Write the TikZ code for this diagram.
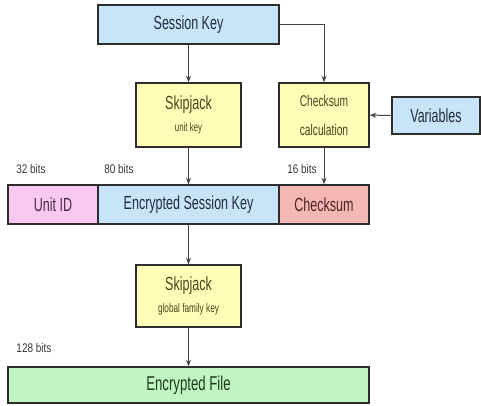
\documentclass[tikz,border=0pt]{standalone}
\usepackage{fontspec}
\setmainfont{Liberation Sans}[FakeStretch=0.66]
\newfontfamily\plainsf{Liberation Sans}[FakeStretch=0.8]
\usetikzlibrary{arrows.meta}
\definecolor{kblue}{RGB}{200,228,248}
\definecolor{kyellow}{RGB}{255,255,184}
\definecolor{kpink}{RGB}{248,200,240}
\definecolor{ksalmon}{RGB}{244,184,180}
\definecolor{kgreen}{RGB}{192,244,192}
\definecolor{kline}{RGB}{45,45,45}
\definecolor{tblue}{RGB}{35,45,60}
\definecolor{tyellow}{RGB}{70,70,30}
\definecolor{tpink}{RGB}{75,45,70}
\definecolor{tsalmon}{RGB}{80,35,35}
\definecolor{tgreen}{RGB}{30,60,30}
\definecolor{tbits}{RGB}{55,55,55}
\begin{document}
\begin{tikzpicture}[x=1pt,y=-1pt,
  box/.style={draw=kline, line width=1.5pt, inner sep=0pt,
    font=\fontsize{19}{21}\selectfont, align=center},
  conn/.style={draw=kline!90, line width=1pt, -{Stealth[length=6.5pt,width=5pt]}},
  bits/.style={text=tbits, font=\plainsf\fontsize{12.5}{13}\selectfont, inner sep=0pt}]
\useasboundingbox (0,0) rectangle (481,405);
\node[box, fill=kblue, text=tblue, minimum width=181pt, minimum height=39pt] (sk) at (188.5,24.5) {Session Key};
\node[box, fill=kyellow, text=tyellow, minimum width=105pt, minimum height=64pt] (sj1) at (188.5,115)
  {Skipjack\\[1pt]{\fontsize{12}{14}\selectfont unit key}};
\node[box, fill=kyellow, text=tyellow, minimum width=90pt, minimum height=64pt] (cc) at (324,115)
  {\fontsize{15.5}{17}\selectfont Checksum\\[8pt]\fontsize{15.5}{17}\selectfont calculation};
\node[box, fill=kblue, text=tblue, minimum width=88pt, minimum height=37pt] (var) at (436,115.5) {Variables};
\node[box, fill=kpink, text=tpink, minimum width=90pt, minimum height=39pt] (uid) at (53,204.5) {Unit ID};
\node[box, fill=kblue, text=tblue, minimum width=181pt, minimum height=39pt] (esk) at (188.5,204.5) {Encrypted Session Key};
\node[box, fill=ksalmon, text=tsalmon, minimum width=90pt, minimum height=39pt] (cs) at (324,204.5) {Checksum};
\node[box, fill=kyellow, text=tyellow, minimum width=105pt, minimum height=62pt] (sj2) at (188.5,296)
  {Skipjack\\[1pt]{\fontsize{12.5}{14}\selectfont global family key}};
\node[box, fill=kgreen, text=tgreen, minimum width=361pt, minimum height=36pt] (ef) at (188.5,385) {\fontsize{20}{21}\selectfont Encrypted File};
\node[bits] (b32) at (31,169) {32 bits};
\node[bits] (b80) at (119,169) {80 bits};
\node[bits] (b16) at (302,169) {16 bits};
\node[bits] (b128) at (34,348) {128 bits};
\draw[conn] (sk) -- (sj1);
\draw[conn] (sk.east) -| (cc.north);
\draw[conn] (var) -- (cc);
\draw[conn] (sj1) -- (esk);
\draw[conn] (cc) -- (cs);
\draw[conn] (esk) -- (sj2);
\draw[conn] (sj2) -- (ef);
\end{tikzpicture}
\end{document}
